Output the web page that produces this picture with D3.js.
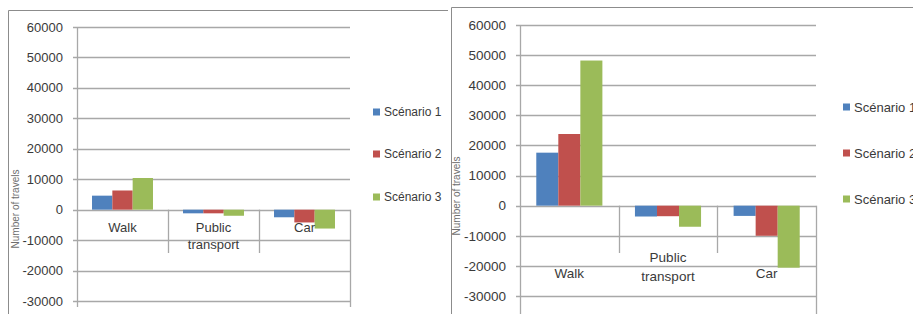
<!DOCTYPE html>
<html>
<head>
<meta charset="utf-8">
<script src="https://cdn.jsdelivr.net/npm/d3@7"></script>
<style>
  html, body { margin: 0; padding: 0; background: #fff; }
  svg { display: block; font-family: "Liberation Sans", Arial, sans-serif; }
</style>
</head>
<body>
<svg id="chart" width="913" height="314"></svg>
<script>
// ---- data ----
const categories = ["Walk", "Public transport", "Car"];
const categoryLines = [["Walk"], ["Public", "transport"], ["Car"]];
const seriesNames = ["Scénario 1", "Scénario 2", "Scénario 3"];
const seriesColors = ["#4F81BD", "#C0504D", "#9BBB59"];
const yTicks = [-30000, -20000, -10000, 0, 10000, 20000, 30000, 40000, 50000, 60000];
const yTitle = "Number of travels";

// left chart values: per scenario, per category
const leftScenario1 = [4600, -1200, -2500];
const leftScenario2 = [6300, -1200, -4200];
const leftScenario3 = [10400, -2000, -6200];

// right chart values
const rightScenario1 = [17600, -3600, -3400];
const rightScenario2 = [23800, -3500, -10000];
const rightScenario3 = [48200, -7000, -20600];

const svg = d3.select("#chart");
const gridColor = "#a8a8a8";
const textColor = "#3a3a3a";

// frames
svg.append("path").attr("d", "M8.5,314 V10.5 H448").attr("fill", "none").attr("stroke", "#8c8c8c");
svg.append("path").attr("d", "M451.5,314 V7.5 H913").attr("fill", "none").attr("stroke", "#8c8c8c");

function drawChart(cfg) {
  const values = cfg.values;
  const g = svg.append("g");
  const y = d3.scaleLinear().domain([-30000, 60000]).range([cfg.yBottom, cfg.yTop]);
  const x = d3.scaleBand().domain(categories).range([cfg.x0, cfg.x1]).padding(0);
  const xs = d3.scaleBand().domain(seriesNames)
    .range([x.bandwidth() * 0.165, x.bandwidth() * 0.835]).padding(0);

  // gridlines
  g.selectAll(".grid").data(yTicks).join("line")
    .attr("x1", cfg.x0 - 4).attr("x2", cfg.x1)
    .attr("y1", d => Math.round(y(d)) + 0.5).attr("y2", d => Math.round(y(d)) + 0.5)
    .attr("stroke", gridColor).attr("stroke-width", 1.3);

  // y tick labels
  g.selectAll(".ylab").data(yTicks).join("text")
    .attr("x", cfg.x0 - 14).attr("y", d => y(d))
    .attr("dy", "0.35em").attr("text-anchor", "end")
    .attr("font-size", cfg.tickSize).attr("fill", textColor)
    .text(d => d);

  // y axis line
  g.append("line").attr("x1", cfg.x0 + 0.5).attr("x2", cfg.x0 + 0.5)
    .attr("y1", y(60000)).attr("y2", cfg.axisBottom)
    .attr("stroke", gridColor).attr("stroke-width", 1.3);

  // right edge line (below zero)
  g.append("line").attr("x1", cfg.x1 + 0.5).attr("x2", cfg.x1 + 0.5)
    .attr("y1", y(0)).attr("y2", cfg.axisBottom)
    .attr("stroke", gridColor).attr("stroke-width", 1.3);

  // category tick lines
  g.selectAll(".ctick").data(categories.slice(1)).join("line")
    .attr("x1", d => Math.round(x(d)) + 0.5).attr("x2", d => Math.round(x(d)) + 0.5)
    .attr("y1", y(0)).attr("y2", cfg.tickBottom)
    .attr("stroke", gridColor).attr("stroke-width", 1.3);

  // bars
  seriesNames.forEach((s, si) => {
    g.selectAll(".bar" + si).data(categories).join("rect")
      .attr("x", c => x(c) + xs(s))
      .attr("width", xs.bandwidth())
      .attr("y", (c, ci) => y(Math.max(0, values[si][ci])))
      .attr("height", (c, ci) => Math.abs(y(values[si][ci]) - y(0)))
      .attr("fill", seriesColors[si]);
  });

  // category labels
  categories.forEach((c, ci) => {
    const lines = categoryLines[ci];
    const ys = cfg.labelY[ci];
    lines.forEach((ln, li) => {
      g.append("text")
        .attr("x", x(c) + x.bandwidth() / 2).attr("y", ys[li])
        .attr("dy", "0.35em").attr("text-anchor", "middle")
        .attr("font-size", cfg.catSize).attr("fill", textColor)
        .text(ln);
    });
  });

  // y title
  g.append("text")
    .attr("transform", `translate(${cfg.titleX},${cfg.titleY}) rotate(-90)`)
    .attr("text-anchor", "middle").attr("dy", "0.35em")
    .attr("font-size", 10).attr("fill", "#6e6e6e")
    .text(yTitle);

  // legend
  seriesNames.forEach((s, si) => {
    const ly = cfg.legendY[si];
    g.append("rect").attr("x", cfg.legendX).attr("y", ly - 3.5)
      .attr("width", 7).attr("height", 7).attr("fill", seriesColors[si]);
    g.append("text").attr("x", cfg.legendX + 11).attr("y", ly)
      .attr("dy", "0.35em").attr("font-size", cfg.legendSize).attr("fill", textColor)
      .text(s);
  });
}

drawChart({
  values: [leftScenario1, leftScenario2, leftScenario3],
  x0: 77, x1: 350, yTop: 27, yBottom: 301, axisBottom: 307, tickBottom: 253,
  tickSize: 13, catSize: 13,
  labelY: [[227], [227, 244], [227]],
  titleX: 15, titleY: 209,
  legendX: 373, legendY: [112, 154, 197], legendSize: 12
});

drawChart({
  values: [rightScenario1, rightScenario2, rightScenario3],
  x0: 520, x1: 816, yTop: 25, yBottom: 296, axisBottom: 314, tickBottom: 253,
  tickSize: 13.5, catSize: 13.5,
  labelY: [[273], [257, 276], [273]],
  titleX: 456, titleY: 196,
  legendX: 843, legendY: [107, 153, 199], legendSize: 13
});
</script>
</body>
</html>
